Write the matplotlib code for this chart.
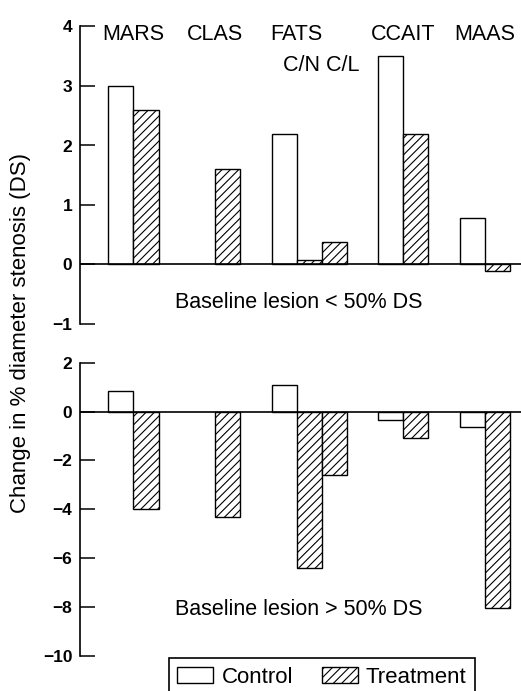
import matplotlib
matplotlib.use("Agg")
import matplotlib.pyplot as plt
from matplotlib.patches import Patch

plt.rcParams['font.family'] = ['Liberation Sans', 'DejaVu Sans']
plt.rcParams['hatch.linewidth'] = 0.8
plt.rcParams['hatch.color'] = 'black'

# study groups and values (None = no bar)
groups = ['MARS', 'CLAS', 'FATS', 'CCAIT', 'MAAS']
small_control = [3.0, None, 2.2, 3.5, 0.78]
small_treatment = [[2.6], [1.6], [0.08, 0.38], [2.2], [-0.11]]
large_control = [0.83, None, 1.1, -0.35, -0.65]
large_treatment = [[-4.0], [-4.3], [-6.4, -2.6], [-1.1], [-8.05]]
top_ticks = [-1, 0, 1, 2, 3, 4]
bottom_ticks = [-10, -8, -6, -4, -2, 0, 2]

gap = 1.25


def group_starts():
    '''left edge of the first bar of every group'''
    starts = []
    x = 0.0
    for treat in small_treatment:
        starts.append(x)
        x += 1 + len(treat) + gap
    return starts


def draw_panel(ax, control, treatment, ylim, ticks):
    starts = group_starts()
    for s, c, t in zip(starts, control, treatment):
        if c is not None:
            ax.bar(s, c, width=1, align='edge', facecolor='white',
                   edgecolor='black', linewidth=1.0)
        for j, v in enumerate(t):
            ax.bar(s + 1 + j, v, width=1, align='edge', facecolor='white',
                   edgecolor='black', linewidth=1.0, hatch='////')
    ax.axhline(0, color='black', lw=1.2)
    ax.set_xlim(-1.13, 16.44)
    ax.set_ylim(*ylim)
    ax.set_yticks(ticks)
    ax.set_yticklabels(['\u2212%d' % -t if t < 0 else '%d' % t for t in ticks],
                       fontsize=12.5, fontweight='bold')
    ax.set_xticks([])
    for side in ['top', 'right', 'bottom']:
        ax.spines[side].set_visible(False)
    ax.spines['left'].set_linewidth(1.2)
    ax.tick_params(axis='y', direction='in', length=10.8, width=1.1, pad=5.5)
    return starts


fig = plt.figure(figsize=(5.21, 6.91), dpi=100)
ax1 = fig.add_axes([80 / 521, 1 - 324 / 691, 441 / 521, (324 - 26.5) / 691])
ax2 = fig.add_axes([80 / 521, 1 - 656 / 691, 441 / 521, (656 - 362.7) / 691])

starts = draw_panel(ax1, small_control, small_treatment, (-1, 4), top_ticks)
draw_panel(ax2, large_control, large_treatment, (-10, 2), bottom_ticks)

for s, name in zip(starts, groups):
    ax1.text(s + 1, 3.765, name, ha='center', va='baseline', fontsize=15.5)
ax1.text(starts[2] + 2, 3.26, 'C/N C/L', ha='center', va='baseline', fontsize=15.5)
ax1.text(7.6, -0.73, 'Baseline lesion < 50% DS', ha='center', va='baseline',
         fontsize=15.5)
ax2.text(7.6, -8.34, 'Baseline lesion > 50% DS', ha='center', va='baseline',
         fontsize=15.5)

fig.text(21 / 521, 1 - 333 / 691, 'Change in % diameter stenosis (DS)',
         rotation=90, ha='center', va='center', fontsize=16)

handles = [Patch(facecolor='white', edgecolor='black', linewidth=1.0, label='Control'),
           Patch(facecolor='white', edgecolor='black', linewidth=1.0, hatch='////',
                 label='Treatment')]
leg = fig.legend(handles=handles, loc='upper left', ncol=2,
                 bbox_to_anchor=(169 / 521, 1 - 658.3 / 691), borderaxespad=0,
                 fontsize=16, handlelength=1.62, handleheight=0.68,
                 handletextpad=0.36, columnspacing=1.3, borderpad=0.38,
                 fancybox=False, framealpha=1, edgecolor='black')
leg.get_frame().set_linewidth(1.2)

fig.savefig('out.png', dpi=100)
